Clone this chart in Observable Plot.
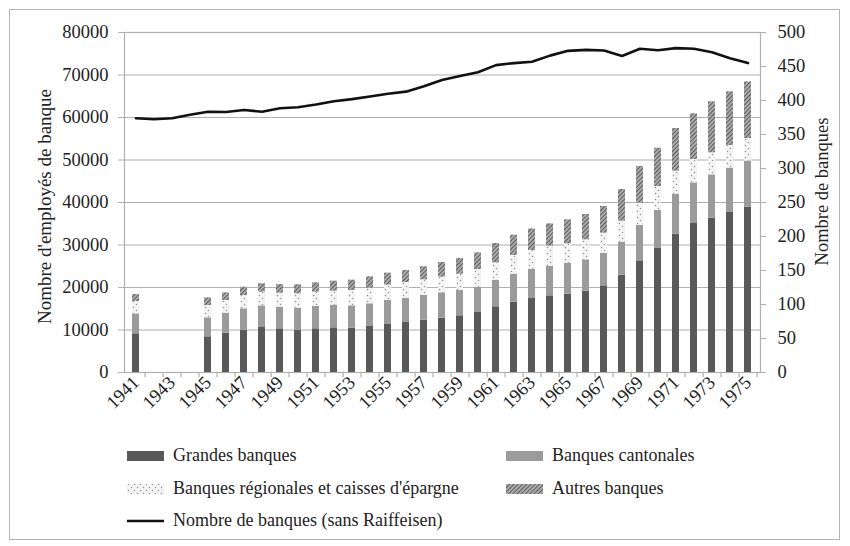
<!DOCTYPE html>
<html>
<head>
<meta charset="utf-8">
<script src="https://cdn.jsdelivr.net/npm/d3@7"></script>
<script src="https://cdn.jsdelivr.net/npm/@observablehq/plot@0.6"></script>
<style>
  html, body { margin: 0; padding: 0; background: #fff; }
  body { width: 850px; height: 546px; position: relative; overflow: hidden; font-family: "Liberation Serif", serif; color: #222; }
  #frame { position: absolute; left: 9px; top: 9px; width: 829px; height: 529px; border: 1.5px solid #b5b5b5; pointer-events: none; }
  #chart { position: absolute; left: 0; top: 0; }
  .lg { position: absolute; font-size: 18px; line-height: 1; white-space: nowrap; }
  .sw { position: absolute; }
</style>
</head>
<body>
<svg width="0" height="0" style="position:absolute">
  <defs>
    <pattern id="dots" width="6" height="6" patternUnits="userSpaceOnUse">
      <rect width="6" height="6" fill="#f4f4f4"></rect>
      <circle cx="1.5" cy="1.5" r="0.75" fill="#949494"></circle>
      <circle cx="4.5" cy="4.5" r="0.75" fill="#949494"></circle>
    </pattern>
    <pattern id="hatch" width="3" height="3" patternUnits="userSpaceOnUse" patternTransform="rotate(45)">
      <rect width="3" height="3" fill="#ababab"></rect>
      <line x1="0" y1="0" x2="0" y2="3" stroke="#4a4a4a" stroke-width="1.6"></line>
    </pattern>
  </defs>
</svg>
<div id="chart"></div>
<div id="legend"></div>
<div id="frame"></div>
<script>
const years = [1941,1942,1943,1944,1945,1946,1947,1948,1949,1950,1951,1952,1953,1954,1955,1956,1957,1958,1959,1960,1961,1962,1963,1964,1965,1966,1967,1968,1969,1970,1971,1972,1973,1974,1975];
const tickYears = [1941,1943,1945,1947,1949,1951,1953,1955,1957,1959,1961,1963,1965,1967,1969,1971,1973,1975];
const grandes = [9100,null,null,null,8400,9250,9960,10590,10280,9960,10280,10510,10430,10820,11290,11770,12310,12780,13340,14120,15460,16540,17410,18040,18430,19130,20390,22900,26280,29180,32550,35060,36310,37650,38900];
const cantonales = [4700,null,null,null,4470,4700,5030,5100,5090,5180,5250,5330,5260,5340,5650,5640,5810,5970,5960,5950,6190,6590,6870,6900,7290,7380,7610,7770,8310,8940,9410,9570,10200,10430,10820];
const regionales = [2900,null,null,null,2900,2990,3120,3210,3290,3370,3370,3290,3610,3680,3610,3770,3690,3680,3840,4170,4160,4400,4400,4790,4560,4710,4780,4940,5250,5650,5410,5490,5190,5330,5340];
const autres = [1650,null,null,null,1800,1810,1960,1970,2040,2120,2200,2360,2420,2680,2820,2820,3060,3450,3680,3920,4540,4780,5100,5250,5640,5960,6280,7450,8630,9010,10040,10750,11990,12630,13330];
const nbBanques = [374,372.5,374,379,383.5,383,386,383.5,388.5,390,394,399,402,406,410,413,421,430,436,441.5,452,455,457,466,473,474.5,473.5,465.5,476,474,477,476,471,462,455];
const leftTicks = [0,10000,20000,30000,40000,50000,60000,70000,80000];
const rightTicks = [0,50,100,150,200,250,300,350,400,450,500];
const categories = ["Grandes banques","Banques cantonales","Banques régionales et caisses d'épargne","Autres banques"];
const lineLabel = "Nombre de banques (sans Raiffeisen)";
const fills = ["#595959","#9b9b9b","url(#dots)","url(#hatch)"];
const leftTitle = "Nombre d'employés de banque";
const rightTitle = "Nombre de banques";

const ratio = 80000 / 500;
const series = [grandes, cantonales, regionales, autres];
const stacked = [];
years.forEach((yr, i) => {
  series.forEach((s, k) => {
    if (s[i] != null) stacked.push({year: yr, cat: categories[k], value: s[i]});
  });
});
const lineData = years.map((yr, i) => ({year: yr, n: nbBanques[i]}));

const W = 850, H = 430, ML = 124, MR = 90, MT = 32, MB = 58;
const step = (W - ML - MR) / years.length;

const plot = Plot.plot({
  width: W, height: H,
  marginLeft: ML, marginRight: MR, marginTop: MT, marginBottom: MB,
  style: {fontFamily: "Liberation Serif, serif", fontSize: "18.5px", color: "#222", background: "transparent"},
  x: {type: "band", domain: years, paddingInner: 0.6, paddingOuter: 0.3, axis: null},
  y: {type: "linear", domain: [0, 80000], axis: null},
  color: {type: "ordinal", domain: categories, range: fills},
  marks: [
    Plot.gridY(leftTicks, {stroke: "#b0b0b0", strokeOpacity: 1, strokeWidth: 1.2}),
    Plot.frame({stroke: "#b0b0b0", strokeWidth: 1.2}),
    Plot.barY(stacked, Plot.stackY({x: "year", y: "value", fill: "cat", z: "cat", order: categories})),
    Plot.axisY({ticks: leftTicks, tickFormat: d => String(d), tickSize: 6, tickPadding: 10, label: null, stroke: "#b0b0b0"}),
    Plot.axisY({anchor: "right", ticks: rightTicks.map(v => v * ratio), tickFormat: d => String(Math.round(d / ratio)), tickSize: 5, tickPadding: 12, label: null, stroke: "#b0b0b0"}),
    Plot.ruleX(years, {x: d => d, dx: step / 2, y1: 0, y2: -1250, stroke: "#b0b0b0", strokeWidth: 1.2}),
    Plot.axisX({ticks: tickYears, tickSize: 0, tickPadding: 7, tickRotate: -45, tickFormat: d => String(d), label: null, dx: 0}),
    Plot.line(lineData, {x: "year", y: d => d.n * ratio, stroke: "#111", strokeWidth: 2.6, curve: "linear"}),
    Plot.text([leftTitle], {frameAnchor: "left", textAnchor: "middle", dx: -80, dy: 4, rotate: -90, text: d => d, fontSize: 19}),
    Plot.text([rightTitle], {frameAnchor: "right", textAnchor: "middle", dx: 62, dy: -11, rotate: -90, text: d => d, fontSize: 18.5})
  ]
});
document.getElementById("chart").appendChild(plot);

const svgNS = "http://www.w3.org/2000/svg";

// legend
const legend = document.getElementById("legend");
const items = [
  {label: categories[0], fill: fills[0], x: 127, y: 456},
  {label: categories[1], fill: fills[1], x: 506, y: 456},
  {label: categories[2], fill: fills[2], x: 127, y: 489},
  {label: categories[3], fill: fills[3], x: 506, y: 489},
  {label: lineLabel, line: true, x: 127, y: 521}
];
items.forEach(it => {
  const sw = document.createElementNS(svgNS, "svg");
  sw.setAttribute("width", 37); sw.setAttribute("height", 12);
  sw.setAttribute("class", "sw");
  sw.style.left = it.x + "px"; sw.style.top = (it.y - 6) + "px";
  if (it.line) {
    const l = document.createElementNS(svgNS, "line");
    l.setAttribute("x1", 0); l.setAttribute("x2", 37); l.setAttribute("y1", 6); l.setAttribute("y2", 6);
    l.setAttribute("stroke", "#111"); l.setAttribute("stroke-width", 2.6);
    sw.appendChild(l);
  } else {
    const r = document.createElementNS(svgNS, "rect");
    r.setAttribute("x", 0); r.setAttribute("y", 1); r.setAttribute("width", 37); r.setAttribute("height", 10);
    r.setAttribute("fill", it.fill);
    sw.appendChild(r);
  }
  legend.appendChild(sw);
  const t = document.createElement("div");
  t.className = "lg";
  t.textContent = it.label;
  t.style.left = (it.x + 46) + "px";
  t.style.top = (it.y - 10) + "px";
  legend.appendChild(t);
});
</script>
</body>
</html>
